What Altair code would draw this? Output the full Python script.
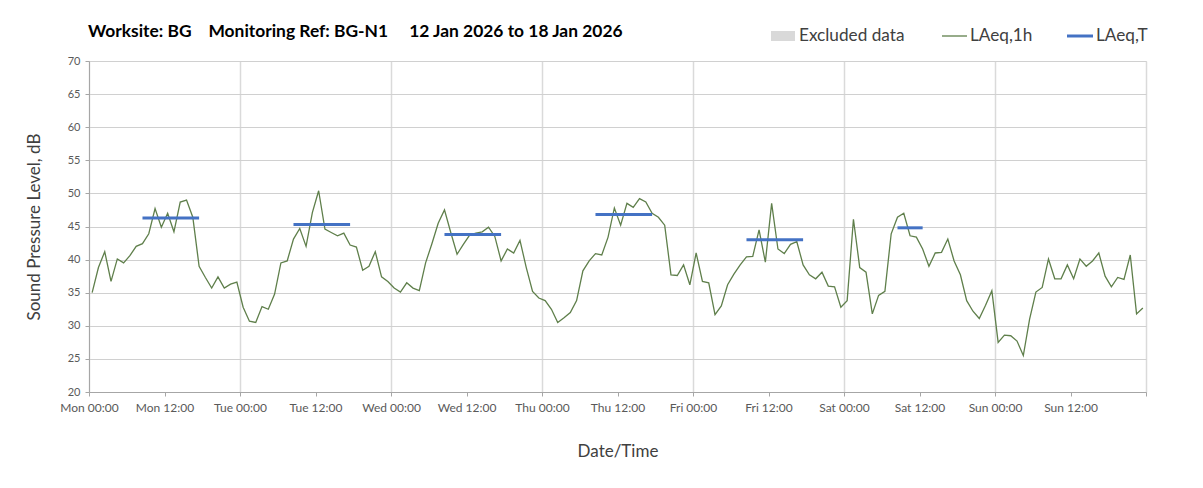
import altair as alt
import pandas as pd

# ---------------- data ----------------
days = ["Mon", "Tue", "Wed", "Thu", "Fri", "Sat", "Sun"]

laeq_1h = [
    # Mon
    35.0, 38.8, 41.2, 36.7, 40.1, 39.5, 40.6, 42.0, 42.4, 43.9, 47.7, 44.9,
    47.0, 44.2, 48.7, 49.0, 46.4, 39.0, 37.3, 35.7, 37.4, 35.7, 36.3, 36.6,
    # Tue
    32.8, 30.7, 30.5, 32.9, 32.5, 34.8, 39.5, 39.8, 43.1, 44.7, 42.0, 47.1,
    50.4, 44.6, 44.1, 43.6, 44.0, 42.2, 41.9, 38.4, 39.0, 41.2, 37.4, 36.7,
    # Wed
    35.7, 35.1, 36.5, 35.7, 35.3, 39.5, 42.4, 45.5, 47.5, 44.1, 40.8, 42.3,
    43.7, 44.0, 44.2, 44.9, 43.5, 39.8, 41.6, 41.0, 42.9, 38.8, 35.2, 34.2,
    # Thu
    33.8, 32.5, 30.5, 31.2, 32.0, 33.8, 38.3, 39.8, 40.9, 40.7, 43.4, 47.8,
    45.2, 48.5, 47.9, 49.2, 48.7, 47.0, 46.4, 45.2, 37.7, 37.6, 39.2, 36.2,
    # Fri
    41.0, 36.7, 36.5, 31.7, 33.0, 36.2, 37.8, 39.2, 40.4, 40.5, 44.5, 39.6,
    48.5, 41.6, 40.9, 42.3, 42.7, 39.2, 37.7, 37.1, 38.1, 36.0, 35.9, 32.8,
    # Sat
    33.8, 46.1, 38.8, 38.1, 31.8, 34.6, 35.2, 43.9, 46.4, 47.0, 43.6, 43.4,
    41.6, 39.0, 41.0, 41.1, 43.1, 39.8, 37.7, 33.8, 32.2, 31.1, 33.1, 35.3,
    # Sun
    27.5, 28.6, 28.5, 27.7, 25.5, 31.0, 35.1, 35.8, 40.1, 37.1, 37.1, 39.2,
    37.1, 40.1, 39.0, 39.8, 41.0, 37.5, 35.9, 37.3, 37.0, 40.7, 31.8, 32.7,
]

# LAeq,T daytime periods (hours from Mon 00:00)
period_start = [8.5, 32.5, 56.5, 80.5, 104.5, 128.5]
period_end = [17.5, 41.5, 65.5, 89.5, 113.5, 132.5]
laeq_t = [46.3, 45.3, 43.8, 46.8, 43.0, 44.8]

y_ticks = [20, 25, 30, 35, 40, 45, 50, 55, 60, 65, 70]
x_ticks = [0, 12, 24, 36, 48, 60, 72, 84, 96, 108, 120, 132, 144, 156, 168]

legend_labels = ["Excluded data", "LAeq,1h", "LAeq,T"]
title_parts = ["Worksite: BG", "Monitoring Ref: BG-N1", "12 Jan 2026 to 18 Jan 2026"]

# ---------------- tables ----------------
hours = [i + 0.5 for i in range(len(laeq_1h))]
df = pd.DataFrame({"hour": hours, "level": laeq_1h})
per = pd.DataFrame({"start": period_start, "end": period_end, "level": laeq_t})

FONT = "Lato"
GREEN = "#5f7f4b"
BLUE = "#4472c4"
GREY_TXT = "#404040"

day_js = "[" + ",".join("'%s'" % d for d in days) + "]"
label_expr = (
    "datum.value >= 168 ? '' : " + day_js +
    "[floor(datum.value / 24)] + (datum.value % 24 == 0 ? ' 00:00' : ' 12:00')"
)

x_scale = alt.Scale(domain=[0, 168], nice=False, zero=False)
y_scale = alt.Scale(domain=[20, 70], nice=False, zero=False)

x_axis = alt.Axis(
    values=x_ticks,
    labelExpr=label_expr,
    title="Date/Time",
    grid=True,
    gridColor={"condition": {"test": "datum.value % 24 == 0", "value": "#dadada"},
               "value": "transparent"},
    gridWidth=1.5,
    tickSize=4,
    tickColor="#a6a6a6",
    domainColor="#a6a6a6",
    labelColor="#595959",
    labelFontSize=12,
    labelPadding=6,
    labelFont=FONT,
    labelFlush=False,
    labelOverlap=False,
    titleFont=FONT,
    titleFontSize=17,
    titleFontWeight="normal",
    titleColor=GREY_TXT,
    titlePadding=30,
)

y_axis = alt.Axis(
    values=y_ticks,
    title="Sound Pressure Level, dB",
    grid=True,
    gridColor="#d0d0d0",
    tickSize=4,
    tickColor="#a6a6a6",
    domainColor="#a6a6a6",
    labelColor="#595959",
    labelFontSize=11,
    labelPadding=5,
    labelFont=FONT,
    labelFlush=False,
    labelOverlap=False,
    titleFont=FONT,
    titleFontSize=17,
    titleFontWeight="normal",
    titleColor=GREY_TXT,
    titlePadding=24,
)

line = alt.Chart(df).mark_line(color=GREEN, strokeWidth=1.3).encode(
    x=alt.X("hour:Q", scale=x_scale, axis=x_axis),
    y=alt.Y("level:Q", scale=y_scale, axis=y_axis),
)

rules = alt.Chart(per).mark_rule(color=BLUE, strokeWidth=3).encode(
    x=alt.X("start:Q", scale=x_scale, axis=x_axis),
    x2="end:Q",
    y=alt.Y("level:Q", scale=y_scale, axis=y_axis),
)

# ---------------- legend and heading (manual, above plot) ----------------
def legend_text(label, xpos):
    return alt.Chart(pd.DataFrame({"label": [label]})).mark_text(
        align="left", baseline="middle", font=FONT, fontSize=17.2, color=GREY_TXT
    ).encode(x=alt.value(xpos), y=alt.value(-25), text="label:N")

leg_rect = alt.Chart(pd.DataFrame({"label": [legend_labels[0]]})).mark_rect(
    color="#d9d9d9"
).encode(x=alt.value(682), x2=alt.value(706), y=alt.value(-30), y2=alt.value(-20))

leg_green = alt.Chart(pd.DataFrame({"label": [legend_labels[1]]})).mark_rule(
    color=GREEN, strokeWidth=1.3
).encode(x=alt.value(853), x2=alt.value(878), y=alt.value(-25))

leg_blue = alt.Chart(pd.DataFrame({"label": [legend_labels[2]]})).mark_rule(
    color=BLUE, strokeWidth=3
).encode(x=alt.value(978), x2=alt.value(1004), y=alt.value(-25))

sp = "\u00a0" * 4
title_text = title_parts[0] + sp + title_parts[1] + sp + "\u00a0" + title_parts[2]

heading = alt.Chart(pd.DataFrame({"label": [title_text]})).mark_text(
    align="left", baseline="alphabetic", font=FONT, fontSize=17.4,
    fontWeight="bold", color="#000000"
).encode(x=alt.value(-1), y=alt.value(-24), text="label:N")

extra_layers = [
    heading,
    leg_rect, legend_text(legend_labels[0], 710),
    leg_green, legend_text(legend_labels[1], 881),
    leg_blue, legend_text(legend_labels[2], 1007),
]

chart = alt.layer(line, rules, *extra_layers).properties(
    width=1057,
    height=331,
    autosize=alt.AutoSizeParams(type="none"),
    padding={"left": 81, "top": 53, "right": 49, "bottom": 88},
).configure_view(
    stroke="#bfbfbf", strokeWidth=1
).configure(
    background="white"
)

chart.save("out.html", embed_options={"renderer": "svg", "actions": False})
